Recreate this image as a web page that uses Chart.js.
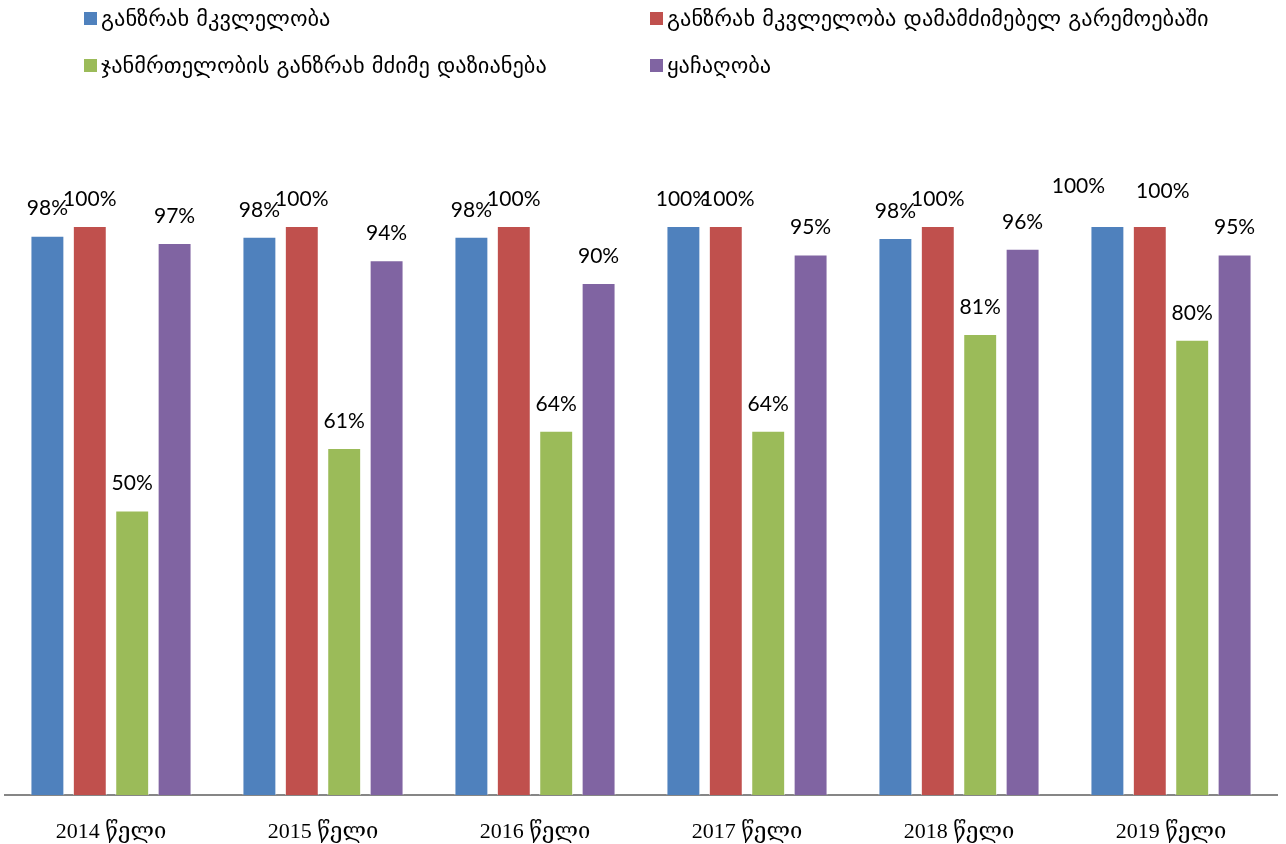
<!DOCTYPE html>
<html>
<head>
<meta charset="utf-8">
<script src="https://cdn.jsdelivr.net/npm/chart.js@4"></script>
<style>
html,body{margin:0;padding:0;background:#fff;}
#wrap{width:1286px;height:844px;position:relative;}
</style>
</head>
<body>
<div id="wrap"><canvas id="c"></canvas></div>
<script>
const categories = ['2014 წელი','2015 წელი','2016 წელი','2017 წელი','2018 წელი','2019 წელი'];
const seriesNames = ['განზრახ მკვლელობა','განზრახ მკვლელობა დამამძიმებელ გარემოებაში','ჯანმრთელობის განზრახ მძიმე დაზიანება','ყაჩაღობა'];
const murder = [98.3, 98.1, 98.1, 100, 97.9, 100];
const aggravatedMurder = [100, 100, 100, 100, 100, 100];
const grievousHarm = [50, 61, 64, 64, 81, 80];
const robbery = [97, 94, 90, 95, 96, 95];
const colors = ['#4F81BD','#C0504D','#9BBB59','#8064A2'];

const values = [murder, aggravatedMurder, grievousHarm, robbery];

// manual label nudges (dataset index, category index) -> [dx, dy]
const labelNudge = {'0,5':[-29,-13], '1,5':[13,-8], '0,3':[-1,0], '1,3':[2,0]};

const labelPlugin = {
  id:'labels',
  afterDatasetsDraw(chart){
    const ctx = chart.ctx;
    ctx.save();
    ctx.font = '21px Lato, "Open Sans", sans-serif';
    ctx.fillStyle = '#000';
    ctx.textAlign = 'center';
    ctx.textBaseline = 'middle';
    chart.data.datasets.forEach((ds, di) => {
      const meta = chart.getDatasetMeta(di);
      meta.data.forEach((bar, i) => {
        const n = labelNudge[di+','+i] || [0,0];
        ctx.fillText(Math.round(ds.data[i]) + '%', bar.x + n[0], bar.y - 27 + n[1]);
      });
    });
    ctx.restore();
  }
};

const legendPlugin = {
  id:'customLegend',
  afterDraw(chart){
    const ctx = chart.ctx;
    ctx.save();
    ctx.font = '22.4px "DejaVu Sans", sans-serif';
    ctx.textBaseline = 'middle';
    ctx.textAlign = 'left';
    const pos = [[84,19],[650,19],[84,66],[650,66]];
    chart.data.datasets.forEach((ds, di) => {
      const [x,y] = pos[di];
      ctx.fillStyle = ds.backgroundColor;
      ctx.fillRect(x, y-7, 13, 13);
      ctx.fillStyle = '#000';
      ctx.fillText(ds.label, x+17, y+1);
    });
    ctx.restore();
  }
};

new Chart(document.getElementById('c'), {
  type:'bar',
  data:{
    labels: categories,
    datasets: seriesNames.map((name, i) => ({
      label: name,
      data: values[i],
      backgroundColor: colors[i],
      borderColor: 'rgba(255,255,255,0.6)',
      borderWidth: 1,
      barPercentage: 0.8,
      categoryPercentage: 0.8
    }))
  },
  options:{
    responsive:true,
    maintainAspectRatio:false,
    animation:false,
    layout:{padding:{left:5,right:9,top:226,bottom:0}},
    plugins:{legend:{display:false},tooltip:{enabled:false}},
    scales:{
      x:{
        grid:{display:false},
        border:{display:true,color:'#868686',width:2},
        ticks:{color:'#000',font:{family:'"Liberation Serif","DejaVu Serif",serif',size:22},padding:16},
        afterFit(s){ s.height = 49; }
      },
      y:{display:false,min:0,max:100}
    }
  },
  plugins:[labelPlugin, legendPlugin]
});
</script>
</body>
</html>
